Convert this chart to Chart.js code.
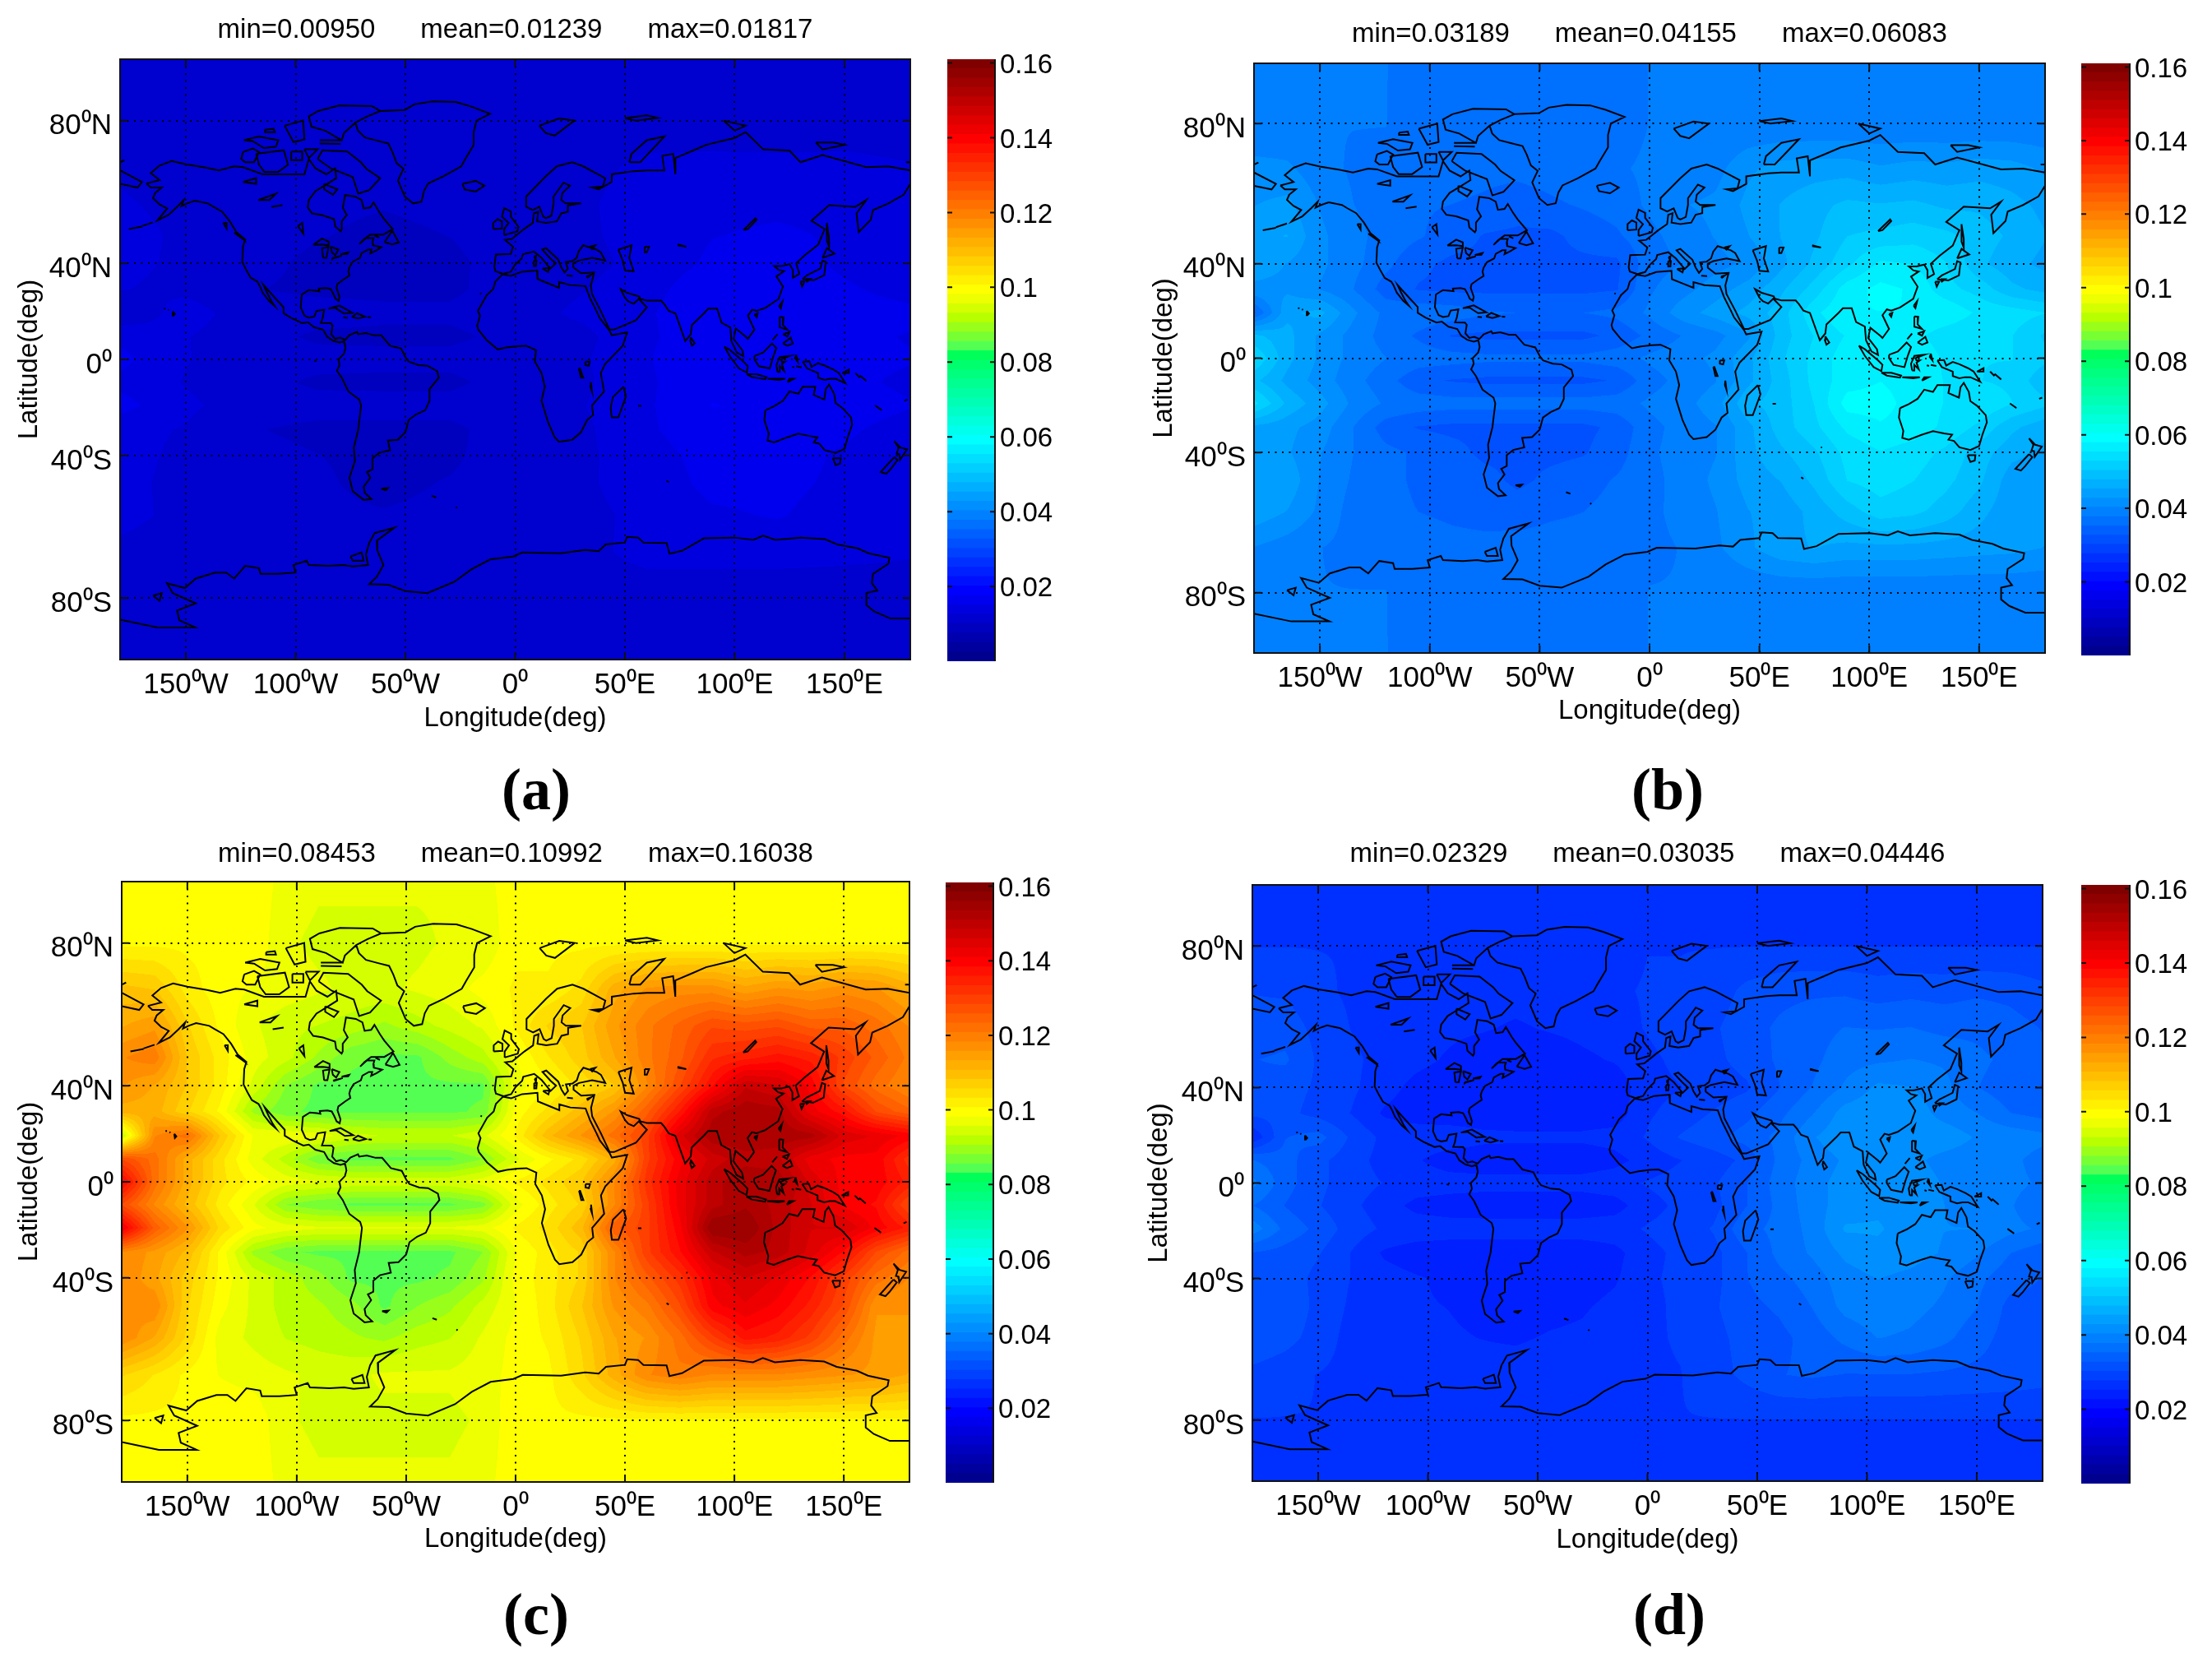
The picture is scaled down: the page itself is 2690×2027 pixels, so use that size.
<!DOCTYPE html>
<html><head><meta charset="utf-8">
<script src="https://cdn.jsdelivr.net/npm/chart.js@4"></script>
<style>
html,body{margin:0;padding:0;background:#fff}
#page{position:relative;width:2690px;height:2027px;overflow:hidden;background:#fff}
canvas{position:absolute}
.tag{position:absolute;transform:translate(-50%,-50%);font:bold 72px "Liberation Serif",serif;color:#000;white-space:nowrap}
</style></head><body><div id="page"></div>
<script>
const lonTicks=[-150,-100,-50,0,50,100,150];
const lonLabels=['150⁰W','100⁰W','50⁰W','0⁰','50⁰E','100⁰E','150⁰E'];
const latTicks=[80,40,0,-40,-80];
const latLabels=['80⁰N','40⁰N','0⁰','40⁰S','80⁰S'];
const colorbarTicks=[0.02,0.04,0.06,0.08,0.1,0.12,0.14,0.16];
const colorbarLabels=['0.02','0.04','0.06','0.08','0.1','0.12','0.14','0.16'];
const colorMax=0.161;
const tags=['(a)','(b)','(c)','(d)'];
const titleA=['min=0.00950','mean=0.01239','max=0.01817'];
const titleB=['min=0.03189','mean=0.04155','max=0.06083'];
const titleC=['min=0.08453','mean=0.10992','max=0.16038'];
const titleD=['min=0.02329','mean=0.03035','max=0.04446'];
const gridLats=[90,80,70,60,50,40,30,20,10,0,-10,-20,-30,-40,-50,-60,-70,-80,-90];
const gridLons=[-180,-165,-150,-135,-120,-105,-90,-75,-60,-45,-30,-15,0,15,30,45,60,75,90,105,120,135,150,165,180];
const gridLonsCoarse=[-180,-150,-120,-90,-60,-30,0,30,60,90,120,150,180];
// panel a, units of 0.0001
const valuesA=[
[113,113,113,108,108,108,113,113,113,113,113,113,113],
[113,113,113,107,107,108,113,113,113,113,113,113,113],
[123,115,111,108,107,110,114,118,131,132,131,132,127],
[128,120,108,105,102,106,114,122,136,145,145,141,133],
[133,122,110,102,96,101,111,121,136,150,155,147,136],
[131,122,107,96,96,96,110,118,133,156,165,145,133],
[127,120,102,96,96,96,112,124,141,170,172,155,140],
[104,138,111,110,105,105,114,131,147,175,175,164,158],
[145,127,110,97,96,96,107,118,147,166,168,158,149],
[158,127,113,108,107,107,114,122,149,172,175,158,153],
[145,124,108,97,96,96,110,120,147,170,173,158,145],
[160,131,112,108,108,108,114,124,147,177,170,165,153],
[133,124,102,96,96,96,111,120,147,167,170,156,138],
[133,121,107,101,96,97,112,120,141,160,162,147,133],
[131,120,107,103,96,102,111,122,136,158,158,145,131],
[133,119,107,104,102,105,112,120,131,147,153,138,130],
[120,113,110,107,108,108,112,119,133,133,133,131,128],
[113,113,113,107,107,107,113,113,113,113,113,113,113],
[113,113,113,108,108,108,113,113,113,113,113,113,113]];
// panel b, units of 0.0001
const valuesB=[
[378,378,378,378,378,367,363,363,363,363,363,367,378,378,378,378,378,378,378,378,378,378,378,378,378],
[378,378,378,378,378,363,359,359,359,359,363,363,378,378,378,378,378,378,378,378,378,378,378,378,378],
[412,408,386,374,370,367,363,359,359,363,367,374,382,382,393,423,438,442,442,431,438,435,442,438,423],
[427,435,401,378,363,355,352,348,340,348,355,363,382,401,408,435,454,469,484,480,484,473,473,461,446],
[446,454,408,386,367,355,340,325,321,321,336,348,370,389,404,427,454,473,503,510,518,510,491,473,454],
[438,427,408,386,359,333,321,321,321,321,321,321,367,378,393,408,446,484,522,559,552,529,484,461,446],
[423,423,401,378,340,325,321,321,321,321,321,325,374,393,416,438,473,514,567,586,575,537,518,484,469],
[348,446,461,408,370,370,367,355,352,352,352,359,382,416,438,461,491,548,578,578,578,575,548,541,529],
[484,461,423,393,367,348,325,321,321,321,321,333,359,378,393,423,491,529,556,567,563,537,529,529,499],
[529,461,423,393,378,367,363,359,359,359,359,367,382,393,408,446,499,537,567,578,578,548,529,529,510],
[484,446,416,386,363,333,325,321,321,321,321,329,367,386,401,446,491,537,567,578,567,552,529,522,484],
[537,473,438,397,374,367,363,363,363,363,363,367,382,393,416,473,491,529,590,590,567,552,552,529,510],
[446,435,416,378,340,325,321,321,321,321,321,333,370,386,401,446,491,522,559,575,567,548,522,484,461],
[446,431,404,378,359,348,336,321,321,321,325,340,374,386,401,446,473,499,537,552,541,522,491,461,446],
[438,446,401,374,359,348,344,336,321,333,340,355,370,386,408,438,454,484,529,541,529,510,484,438,438],
[446,427,397,367,359,352,348,344,340,348,352,363,374,382,401,427,438,461,491,518,510,491,461,435,435],
[401,389,378,370,367,363,359,359,363,363,363,367,374,378,397,423,446,454,446,446,446,442,438,435,427],
[378,378,378,378,378,363,359,359,359,359,359,363,378,378,378,378,378,378,378,378,378,378,378,378,378],
[378,378,378,378,378,367,363,363,363,363,363,367,378,378,378,378,378,378,378,378,378,378,378,378,378]];
// panel c, units of 0.001
const valuesC=[
[100,100,100,100,100,97,96,96,96,96,96,97,100,100,100,100,100,100,100,100,100,100,100,100,100],
[100,100,100,100,100,96,95,95,95,95,96,96,100,100,100,100,100,100,100,100,100,100,100,100,100],
[109,108,102,99,98,97,96,95,95,96,97,99,101,101,104,112,116,117,117,114,116,115,117,116,112],
[113,115,106,100,96,94,93,92,90,92,94,96,101,106,108,115,120,124,128,127,128,125,125,122,118],
[118,120,108,102,97,94,90,86,85,85,89,92,98,103,107,113,120,125,133,135,137,135,130,125,120],
[116,113,108,102,95,88,85,85,85,85,85,85,97,100,104,108,118,128,138,148,146,140,128,122,118],
[112,112,106,100,90,86,85,85,85,85,85,86,99,104,110,116,125,136,150,153,152,142,137,128,124],
[92,118,122,108,98,98,97,94,93,93,93,95,101,110,116,122,130,145,153,153,153,152,145,143,140],
[128,122,112,104,97,92,86,85,85,85,85,88,95,100,104,112,130,140,147,150,149,142,140,140,132],
[140,122,112,104,100,97,96,95,95,95,95,97,101,104,108,118,132,142,150,153,153,145,140,140,135],
[128,118,110,102,96,88,86,85,85,85,85,87,97,102,106,118,130,142,150,153,150,146,140,138,128],
[142,125,116,105,99,97,96,96,96,96,96,97,101,104,110,125,130,140,156,156,150,146,146,140,135],
[118,115,110,100,90,86,85,85,85,85,85,88,98,102,106,118,130,138,148,152,150,145,138,128,122],
[118,114,107,100,95,92,89,85,85,85,86,90,99,102,106,118,125,132,142,146,143,138,130,122,118],
[116,118,106,99,95,92,91,89,85,88,90,94,98,102,108,116,120,128,140,143,140,135,128,116,116],
[118,113,105,97,95,93,92,91,90,92,93,96,99,101,106,113,116,122,130,137,135,130,122,115,115],
[106,103,100,98,97,96,95,95,96,96,96,97,99,100,105,112,118,120,118,118,118,117,116,115,113],
[100,100,100,100,100,96,95,95,95,95,95,96,100,100,100,100,100,100,100,100,100,100,100,100,100],
[100,100,100,100,100,97,96,96,96,96,96,97,100,100,100,100,100,100,100,100,100,100,100,100,100]];
// panel d, units of 0.0001
const valuesD=[
[276,276,276,276,276,268,265,265,265,265,265,268,276,276,276,276,276,276,276,276,276,276,276,276,276],
[276,276,276,276,276,265,262,262,262,262,265,265,276,276,276,276,276,276,276,276,276,276,276,276,276],
[301,298,282,273,270,268,265,262,262,265,268,273,279,279,287,309,320,323,323,315,320,317,323,320,309],
[312,317,293,276,265,259,257,254,248,254,259,265,279,293,298,317,331,342,353,351,353,345,345,337,326],
[326,331,298,282,268,259,248,237,235,235,246,254,270,284,295,312,331,345,367,373,378,373,359,345,331],
[320,312,298,282,262,243,235,235,235,235,235,235,268,276,287,298,326,353,381,408,403,386,353,337,326],
[309,309,293,276,248,237,235,235,235,235,235,237,273,287,304,320,345,375,414,422,420,392,378,353,342],
[254,326,337,298,270,270,268,259,257,257,257,262,279,304,320,337,359,400,422,422,422,420,400,395,386],
[353,337,309,287,268,254,237,235,235,235,235,243,262,276,287,309,359,386,406,414,411,392,386,386,364],
[386,337,309,287,276,268,265,262,262,262,262,268,279,287,298,326,364,392,414,422,422,400,386,386,373],
[353,326,304,282,265,243,237,235,235,235,235,240,268,282,293,326,359,392,414,422,414,403,386,381,353],
[392,345,320,290,273,268,265,265,265,265,265,268,279,287,304,345,359,386,431,431,414,403,403,386,373],
[326,317,304,276,248,237,235,235,235,235,235,243,270,282,293,326,359,381,408,420,414,400,381,353,337],
[326,315,295,276,262,254,246,235,235,235,237,248,273,282,293,326,345,364,392,403,395,381,359,337,326],
[320,326,293,273,262,254,251,246,235,243,248,259,270,282,298,320,331,353,386,395,386,373,353,320,320],
[326,312,290,268,262,257,254,251,248,254,257,265,273,279,293,312,320,337,359,378,373,359,337,317,317],
[293,284,276,270,268,265,262,262,265,265,265,268,273,276,290,309,326,331,326,326,326,323,320,317,312],
[276,276,276,276,276,265,262,262,262,262,262,265,276,276,276,276,276,276,276,276,276,276,276,276,276],
[276,276,276,276,276,268,265,265,265,265,265,268,276,276,276,276,276,276,276,276,276,276,276,276,276]];
// coastlines: flat lon,lat pairs, one list per outline
const coastlines=[
[-168,65.6,-162,66.5,-166,68.3,-162,70.2,-156.5,71.3,-150,70.5,-141,69.7,-135,69,-128,70,-124,69.8,-115,68,-108,68,-102,68,-96,68,-94,71.8,-91,69.5,-86,68,-82,69.5,-81.5,67,-87,65,-91,63.5,-94,61,-94.5,58.8,-92.5,57,-88,56.5,-82.5,55.2,-82,52.9,-79.5,51.3,-79,52,-79,54.5,-76.7,56.5,-78.5,58.7,-77.5,62.4,-73,62,-70,61,-69,58.5,-66,58.8,-64.5,60.3,-62,57.5,-60,55.5,-57,53,-55.8,52,-60,50.2,-66,50.2,-69,48.5,-71,46.9,-68,49,-64.5,49,-65,47.8,-64.8,46.5,-61,45.8,-63.5,44.6,-66,43.6,-65.5,45,-67,45,-70,43.7,-70.7,42,-74,40.6,-75.5,38.5,-76,37,-75.5,35.3,-78,33.9,-81,32,-81.4,30.5,-80,26.8,-80.4,25.2,-81.8,26,-82.8,28,-84,30,-86,30.4,-89.5,30.2,-89.2,29.1,-91,29.3,-94,29.6,-97.2,27.8,-97.7,22.5,-96,19,-94,18.2,-91.5,18.6,-90.5,21,-87,21.5,-87.7,18,-88.5,15.9,-84,15.8,-83.2,14.8,-83.8,11,-82,9,-79.8,9.5,-77.4,8.6,-75.5,10.6,-72,12,-71.5,11,-68,11.5,-64,10.5,-61,10.5,-57,6,-52,4.8,-50,1,-48.5,-1,-44,-2.5,-40,-2.8,-35.5,-5.2,-34.8,-8,-39,-13,-39,-18,-41,-22,-45,-23.7,-48.5,-26,-50,-31,-53.5,-34,-58,-34.3,-57,-38,-62,-39,-65,-41,-65,-45,-67.5,-46,-66,-48,-69,-51,-68.5,-53,-65.5,-55,-69,-55.3,-74,-52.5,-75.5,-48,-73,-42,-73.5,-37,-71.5,-30,-70.2,-20,-71,-17.5,-76,-14,-79,-8,-81.2,-5,-80,-2.5,-80.5,0,-78,2.5,-77.3,5,-77.8,7.5,-78,8,-80,7.4,-83,8.2,-85.7,10,-87.5,13,-91.5,14,-94.5,16.2,-97,15.8,-102,18,-105.5,20,-105.5,22.5,-109,26,-112.5,29.5,-114.7,31.7,-113,28.5,-111,25,-109.5,23,-112,25,-115,28.5,-116.5,31.5,-117.5,33,-120.5,34.5,-122.5,37.5,-124.3,40.4,-124,46,-123,48.5,-127,51,-130,54.5,-133.5,57.5,-137.5,59,-140,60,-146,60.8,-149.5,60,-152,59.2,-151,61,-154,59,-158,56.5,-163,54.8,-158.5,58.5,-162,59.7,-165,61.5,-164,63,-161,64.5,-166,64.5,-168,65.6],
[-90,71.8,-87.8,73.8,-76.5,73.5,-70.3,71,-67.8,69.4,-61.5,67,-66.5,63.8,-71.5,62.8,-74,67.3,-84,69.5,-90,71.8],
[-61.5,81.8,-65.3,82.7,-80.3,82.8,-89.7,81.8,-94,80.8,-92.8,78.8,-86.6,78,-79,76,-78,77.5,-72.8,79.6,-67.8,80.7,-61.5,81.8],
[-105,79,-96.6,80,-96,76.2,-101,75.6,-105,79],
[-89,76,-79,76],
[-89,75.3,-79.5,75.2],
[-123.6,76,-116.7,76.8,-107.9,76,-109,74.6,-114.5,74.3,-119.5,75.8,-123.6,76],
[-114,78.2,-110,78.4,-109.5,77.7,-114,77.7,-114,78.2],
[-124,73.4,-119.5,74.2,-116.7,73.4,-119,71,-123,71,-124.8,71.8,-124,73.4],
[-118,73,-105.4,73.8,-103.5,70.4,-108,68.6,-114.2,68.6,-116.7,70.4,-118,73],
[-96,74,-90,74,-94,72,-96,74],
[-102,73.5,-97,73.5,-97,71.5,-102,71.5,-102,73.5],
[-87,65.5,-81,64,-83,62.5,-87,64,-87,65.5],
[-59.5,47.6,-56,51.5,-53,47.5,-56,46.8,-59.5,47.6],
[-128,50.8,-124,49,-123.5,48.4,-128,50.8],
[-133,54,-131.5,54,-131.5,52.2,-133,54],
[-64,49.9,-62,49.2,-64,49.9],
[-61.5,81.8,-50.3,82,-45.9,83,-37.7,83.5,-27,83.4,-20,82.6,-11.4,81.3,-17.6,80,-18.9,77.7,-18.9,75,-22.7,71.8,-24.6,70,-32.7,67.5,-39.6,65.6,-41.5,63.6,-42.7,60.5,-46.5,60,-50.3,62,-53.4,66.4,-50.9,69.4,-54,70.8,-55.9,73.4,-57.8,75.3,-62.8,75.9,-68.4,76.6,-71.6,78,-72.8,79.6,-67.8,80.7,-61.5,81.8],
[-24,65.5,-18,66.3,-14,65,-18,63.4,-23,64,-24,65.5],
[-92,46.7,-88,48.8,-85,47.8,-85,46.5,-88,46.8,-92,46.7],
[-87.5,42,-88,45.5,-85,45.9,-86,42,-87.5,42],
[-84,46,-80.5,45,-82,43,-83.5,44,-84,46],
[-83.3,41.7,-79,42.8,-83,42,-83.3,41.7],
[-79.5,43.3,-76,44,-76.5,43.4,-79.5,43.3],
[-124,66,-118,67,-118,65.5,-124,66],
[-117,61,-109,62.8,-112,61,-117,61],
[-99,53,-97,54,-96.5,50.5,-99,53],
[-111,59,-106,59.5,-111,59],
[-85,22,-80,23.2,-74.2,20.2,-78,19.9,-82,22.3,-85,22],
[-74.4,18.5,-72,20,-68.4,18.6,-71.5,17.8,-74.4,18.5],
[-78.3,18.3,-76.3,18.1,-78.3,18.3],
[-67.2,18.4,-65.7,18.3,-67.2,18.4],
[-156,20.8,-155,19.7,-155.7,19,-156,20.8],
[-158.2,21.5,-157.7,21.3,-158.2,21.5],
[-160,22,-159.3,22,-160,22],
[-176,52,-170,52.8,-176,52],
[-170,53,-165,54.2,-170,53],
[-91.5,-0.5,-90.5,-0.8,-91.5,-0.5],
[-61,-51.7,-58,-51.5,-59,-52.2,-61,-51.7],
[-38,-54,-36,-54.5,-38,-54],
[-27,-57.5,-26.5,-57.8],
[-16,28.3,-15.4,28],
[-180,71,-178,71.5,-180,71],
[178,71,180,71],
[-5.8,35.8,-2,35.2,3,36.8,10,37.3,10.2,34,15,32.3,20,30.5,20,32.8,25,31.6,32,31.2,32.5,30,34,26.5,37,21,38.5,18,43,12.5,44,10.6,51,11.8,49,6,41,-2,39,-6,40.5,-14,35,-20,35.5,-24,32.8,-26,30,-31,26,-34,20,-34.8,18,-33,15,-27,12,-18,13.5,-12,12,-6,9,-1,9.5,4,5,6,1,5.8,-4,5.2,-8,4.4,-13,8.5,-16.8,13,-17.3,14.7,-16,19,-17,21,-13,27.5,-10,30,-9,33,-5.8,35.8],
[-5.5,36,-9,37,-9.5,38.7,-8.8,43.2,-2,43.4,-1,46,-4.7,48.4,-1.5,48.7,1.5,50.5,4,52,8,54,8.5,57,10.5,57.5,10,54.5,14,54,19,54.5,21,57,24,57.5,24,59.4,30,60,23,60,21,61,21.5,63,25,65,22,65.8,17.5,62,17.5,60,16.5,56.3,14,55.5,12.8,56,11,59,8,58,5,59,5,62,14,67.5,19,70,26,71,31,70,41,67,40,64.8,35,64.5,38,64,44,66,44,68,54,68.8,60,69,68,69,67,72.5,72,73,73,68,73,72,80,73.5,87,75,100,76.5,105,77.7,113,74,125,73.7,130,71,140,72.7,160,69.8,170,70,180,69],
[-180,69,-170,66,-172,64.5,-180,65.5],
[180,65.5,177,62.5,170,60,163,58,162,55,156.5,51,155.5,57,160,61,155,59,143,59.5,135,54.7,141,52,138,46.7,132,43,128,40,129.5,36,126.5,34.5,126.5,37.5,125,39.7,121.5,39,118,39,120,37.5,122.5,37,119,35,122,31,120,26,114,22.3,110,21,108,21.5,106,19,109,13,106,9,105,10,100.5,13.5,99.5,9,103.5,4,104,1.4,101,3,98.5,8,98,14,94,16,92,22,88,22,86,20,80.5,15,80,11,77.5,8,73,20,70,21,68,23.7,66.5,25.3,60,25.3,57,26,56.5,27,51,28.5,48,30,50,26.5,51.5,25,54,24,56.3,26,60,22.5,55,17,45,13,43,13,39,21,35,28,34.5,31.5,36,36.5,30,36.2,26.5,38.5,26.5,40,29,41,35,42,41,41,39,44,37,45,33,46,31,46.5,29,44.5,28,42,26,40.8,23,40.5,24,38,22.5,36.5,21,38.5,19.5,41.5,14,45.5,12.3,45,16,41.8,18.5,40,16,38,12,42,8.5,44.3,3.5,43.3,3,41.8,0,39.5,-2,36.8,-5.5,36],
[47,45,53,46.5,52,42,54,37,50,37.3,49,41,47,45],
[59,46,61,46,60,44,59,44,59,46],
[74,46.5,78,46,74,46.8],
[104,51.7,109.5,55.5,110,55,106,52,104,51.7],
[34,46,36.5,46.5,35,45.2,34,46],
[-5,50,1,51.3,1.5,52.8,-2,56,-2,57.6,-5,58.6,-6,56,-3,54,-5,52,-5,50],
[-10,52,-6,52.2,-6,54.5,-8,55.2,-10,54,-10,52],
[8.5,41,9.7,41,9.5,39,8.5,39,8.5,41],
[12.5,38,15.5,38.2,15,36.7,12.5,38],
[8.7,42.5,9.5,42.8,9.3,41.4,8.7,42.5],
[23.5,35.4,26.2,35.2,23.5,35.4],
[32.5,35,34.5,35.6,33,34.6,32.5,35],
[11,79,20,80.4,27,80,18,77,14,77.5,11,79],
[52,71,57,71,68,76.8,60,76,53,73,52,71],
[50,80.5,60,81,65,80.5,55,80,50,80.5],
[95,80,105,79,100,78,95,80],
[137,75.5,145,75.5,150,75,140,74,137,75.5],
[142,54,143,49,143,46,142,48,142,54],
[130.9,34,136,33.5,140.8,35.5,141.5,40.5,140,41,139,38,133,35.5,130.9,34],
[140,42,145.5,43.5,142,45.5,140,42],
[130,33,131.8,33,130.7,31,130,33],
[132.5,34,134.5,34,133,33,132.5,34],
[120.2,23,121.8,25,121,22,120.2,23],
[109,19.5,110.5,20,110,18.3,109,19.5],
[80,9.7,81.8,7,80.5,6,79.8,8,80,9.7],
[120.5,18.5,122.3,18.3,122,15,124,13,120.5,14,120.5,18.5],
[122,7,125.5,9.5,126.5,7,124,6,122,7],
[122,11,125,12,124,10,122,11],
[117.3,8.5,119.5,11,117.3,8.5],
[95.3,5.6,98,4,104,-1,106,-3,105.5,-5.8,102,-4,98,1,95.3,5.6],
[105.5,-6.5,110,-6.5,114.5,-7.8,114,-8.7,108,-7.8,105.5,-6.5],
[109,1.5,113,3,117,7,119,5,117.5,1,116,-4,111,-3,109,0,109,1.5],
[119.5,-5.5,119,-2.5,120.5,1,125,1.5,121,0,121.5,-1,123,-1,121.5,-2,122.5,-5,120.5,-3,120.5,-5.5,119.5,-5.5],
[131,-1,134,-0.8,135,-3.3,138,-1.7,141,-2.7,145,-4.5,147.5,-6,150.5,-10.5,146,-8.5,143.5,-8.5,141,-9,138,-8,138,-6,133,-4,131,-1],
[124,-10,127,-8.5,125,-8.5,124,-10],
[115,-8.5,119,-8.5,123,-8.5,120,-9,115,-8.5],
[128,2,128.7,-1,127.5,0.5,128,2],
[128,-3,130.5,-3.5,128,-3],
[126.2,-3.2,127.2,-3.5,126.2,-3.2],
[149,-6,152,-4.5,152,-6,149,-6],
[155,-6,157,-8,155,-6],
[157,-7,160,-9.5,157,-7],
[164,-20,167,-22,164,-20],
[177.3,-18,178.7,-17.5,177.3,-18],
[114,-22,113.5,-26,115.5,-31.5,115,-34.3,118,-35,124,-33,129,-31.6,134,-32.5,137.7,-33,136,-35,138.5,-35.5,141,-38,146,-39,150,-37.5,151.5,-33,153.5,-28,153,-25,149,-21,146,-19,145.3,-15,143,-11,141.5,-13,140.8,-17.5,136,-15.5,136.7,-12,131,-12,129,-15,125,-14,122,-18,118,-20.3,114,-22],
[144.7,-41,148.3,-41,148,-43,146,-43.5,144.7,-41],
[172.7,-34.5,175.5,-37,178.5,-37.7,175.3,-41.6,175,-39.5,173.8,-39.3,174.7,-37,172.7,-34.5],
[172.7,-40.6,174.2,-41.7,171,-45,169,-46.6,166.5,-46,170,-43,172.7,-40.6],
[49.3,-12,50.5,-16,47,-25,44,-25,43.5,-21,44.5,-16.5,49.3,-12],
[32,-1,34,-1,33.5,-2.8,32,-2.5,32,-1],
[29,-4,30,-8,31,-8,29.5,-4,29,-4],
[34.5,-10,35,-14,34.3,-12,34.5,-10],
[56,-20.2,57.5,-20.2],
[69,-49,70,-49.5],
[78,-38,78.5,-38],
[-180,-83.9,-163,-85.2,-145.7,-85.2,-153,-84,-154,-82.3,-145.5,-81,-156,-79,-158.6,-77,-150.5,-78,-145.5,-76,-136.7,-74.7,-131.7,-74.7,-128,-76,-123,-73.2,-116.7,-73.7,-116,-75,-108,-75,-100,-74.7,-101,-73,-95,-72,-94,-73,-85,-73.2,-78.4,-73,-74,-73.3,-67,-73,-68,-70.5,-66.5,-67.6,-64,-65,-55,-63.5,-63,-67,-62.8,-69.5,-60,-73,-63,-75.6,-66.5,-77.2,-57.8,-77.3,-50,-78.6,-40,-79,-27.7,-76.7,-20,-74,-11.4,-71.7,-1,-71,3.3,-70,20.8,-70.2,31.8,-69.4,38,-69.7,41.3,-68,50,-67.5,51,-66,56,-66.2,58.4,-67.5,69,-67.6,70.3,-70.3,76,-69.6,86,-66.4,100,-66.2,108.5,-66.8,113,-65.7,118.5,-66.8,130,-66.2,141,-66.6,146.7,-68,156,-69,161,-70.2,170.5,-71.3,170,-72.7,163,-75,162.5,-77,165,-78.5,160,-79,160,-81.3,163.7,-82.5,171,-83.7,180,-83.7],
[-75,-71,-70,-70,-69,-72,-74,-72,-75,-71],
[-165,-79.5,-161,-79,-162,-80.5,-165,-79.5]
];

const panels=[
 {tag:tags[0],title:titleA,lons:gridLonsCoarse,vals:valuesA,unit:1e-4,l:146,t:72,r:1107,b:802,titleY:37,xTitleY:874,yTitleX:36,cb:[1152,1210,72,804],tx:652,ty:960},
 {tag:tags[1],title:titleB,lons:gridLons,vals:valuesB,unit:1e-4,l:1525,t:77,r:2487,b:794,titleY:42,xTitleY:865,yTitleX:1416,cb:[2531,2590,77,797],tx:2028,ty:960},
 {tag:tags[2],title:titleC,lons:gridLons,vals:valuesC,unit:1e-3,l:148,t:1072,r:1106,b:1802,titleY:1039,xTitleY:1872,yTitleX:36,cb:[1150,1208,1073,1803],tx:652,ty:1963},
 {tag:tags[3],title:titleD,lons:gridLons,vals:valuesD,unit:1e-4,l:1523,t:1076,r:2484,b:1801,titleY:1039,xTitleY:1873,yTitleX:1410,cb:[2531,2590,1076,1804],tx:2030,ty:1963}
];

const FONT='"Liberation Sans",Arial,sans-serif', FS=33, TFS=35, LH=40;
const rad=Math.PI/180;
const miller=lat=>1.25*Math.log(Math.tan(Math.PI/4+0.4*lat*rad));
class MillerScale extends Chart.LinearScale{
  getPixelForValue(v){return v===null?NaN:this.getPixelForDecimal(0.5+miller(v)/(2*miller(90)));}
  getValueForPixel(p){const m=(this.getDecimalForPixel(p)-0.5)*2*miller(90);return (Math.atan(Math.exp(0.8*m))-Math.PI/4)*2.5/rad;}
}
MillerScale.id='miller';MillerScale.defaults={};
Chart.register(MillerScale);

// 64 level jet, with the green part as the reference's colour bar shows it
function buildJet(m){
  const n=Math.ceil(m/4),u=[];
  for(let i=1;i<=n;i++)u.push(i/n);
  for(let i=1;i<n;i++)u.push(1);
  for(let i=n;i>=1;i--)u.push(i/n);
  const g0=Math.ceil(n/2)-(m%4===1?1:0);
  const map=[];for(let i=0;i<m;i++)map.push([0,0,0]);
  u.forEach((val,i)=>{
    const g=g0+i+1,r=g+n,b=g-n;
    if(r<=m)map[r-1][0]=val;
    if(g<=m)map[g-1][1]=val;
    if(b>=1)map[b-1][2]=val;
  });
  for(let row=25;row<=33;row++)map[row-1]=[0,1,1-(row-24)*0.65/9];
  [[.33,1,.33],[.47,1,.2],[.6,1,.1],[.72,1,0],[.83,1,0],[.93,1,0]].forEach((c,i)=>{map[33+i]=c;});
  return map.map(c=>c.map(x=>Math.round(x*255)));
}
const jet=buildJet(64);
const levelOf=v=>Math.max(0,Math.min(63,Math.floor(v/colorMax*64)));

const heatShade={id:'heatShade',beforeDatasetsDraw(chart){
  const ds=chart.data.datasets[0],els=chart.getDatasetMeta(0).data,nc=ds.nCols,nr=ds.nRows;
  const a=chart.chartArea,L=Math.round(a.left),T=Math.round(a.top),W=Math.round(a.right)-L,H=Math.round(a.bottom)-T;
  const xs=[],ys=[];
  for(let c=0;c<nc;c++)xs.push(els[c].x);
  for(let r=0;r<nr;r++)ys.push(els[r*nc].y);
  const off=document.createElement('canvas');off.width=W;off.height=H;
  const oc=off.getContext('2d'),im=oc.createImageData(W,H),px=im.data;
  let r=0;
  for(let j=0;j<H;j++){
    const y=T+j+0.5;
    while(r<nr-2&&y>ys[r+1])r++;
    const fy=Math.max(0,Math.min(1,(y-ys[r])/(ys[r+1]-ys[r])));
    let c=0;
    for(let i=0;i<W;i++){
      const x=L+i+0.5;
      while(c<nc-2&&x>xs[c+1])c++;
      const fx=Math.max(0,Math.min(1,(x-xs[c])/(xs[c+1]-xs[c])));
      const v=(ds.data[r*nc+c].v*(1-fx)+ds.data[r*nc+c+1].v*fx)*(1-fy)+(ds.data[(r+1)*nc+c].v*(1-fx)+ds.data[(r+1)*nc+c+1].v*fx)*fy;
      const col=jet[levelOf(v)],k=(j*W+i)*4;
      px[k]=col[0];px[k+1]=col[1];px[k+2]=col[2];px[k+3]=255;
    }
  }
  oc.putImageData(im,0,0);
  chart.ctx.drawImage(off,L,T);
}};
const frame={id:'frame',afterDraw(chart){
  const {left:l,right:r,top:t,bottom:b}=chart.chartArea,c=chart.ctx,x=chart.scales.x,y=chart.scales.y,len=9;
  c.save();c.strokeStyle='#111';c.lineWidth=2;c.setLineDash([]);
  c.beginPath();
  x.ticks.forEach((_,i)=>{const p=x.getPixelForTick(i);c.moveTo(p,b);c.lineTo(p,b-len);c.moveTo(p,t);c.lineTo(p,t+len);});
  y.ticks.forEach((_,i)=>{const p=y.getPixelForTick(i);c.moveTo(l,p);c.lineTo(l+len,p);c.moveTo(r,p);c.lineTo(r-len,p);});
  c.stroke();
  c.strokeRect(l,t,r-l,b-t);
  c.restore();
}};
const barFrame={id:'barFrame',afterDraw(chart){
  const {left:l,right:r,top:t,bottom:b}=chart.chartArea,c=chart.ctx,y=chart.scales.y;
  c.save();c.strokeStyle='#111';c.lineWidth=2;c.beginPath();
  y.ticks.forEach((_,i)=>{const p=y.getPixelForTick(i);c.moveTo(l,p);c.lineTo(l+6,p);c.moveTo(r,p);c.lineTo(r-6,p);});
  c.moveTo(r,t);c.lineTo(r,b);c.stroke();c.restore();
}};

const page=document.getElementById('page');
function addCanvas(x,y,w,h){const cv=document.createElement('canvas');cv.width=w;cv.height=h;cv.style.left=x+'px';cv.style.top=y+'px';cv.style.width=w+'px';cv.style.height=h+'px';page.appendChild(cv);return cv;}

panels.forEach(p=>{
  const cx=p.yTitleX-LH/2,cy=p.titleY-LH/2,cw=p.r+2-cx,ch=p.xTitleY+LH/2-cy;
  const cells=[];
  gridLats.forEach((lat,r)=>p.lons.forEach((lon,c)=>cells.push({x:lon,y:lat,v:p.vals[r][c]*p.unit})));
  const coast=[];
  coastlines.forEach(line=>{for(let i=0;i<line.length;i+=2)coast.push({x:line[i],y:line[i+1]});coast.push({x:null,y:null});});
  new Chart(addCanvas(cx,cy,cw,ch),{
    type:'scatter',
    data:{datasets:[
      {label:'delay',data:cells,nCols:p.lons.length,nRows:gridLats.length,pointRadius:0,showLine:false},
      {label:'coast',data:coast,showLine:true,pointRadius:0,borderColor:'#000',borderWidth:2,tension:0,spanGaps:false,fill:false}
    ]},
    options:{responsive:false,animation:false,devicePixelRatio:1,events:[],
      layout:{padding:{top:0,left:0,bottom:0,right:2}},
      plugins:{legend:{display:false},tooltip:{enabled:false},
        title:{display:true,fullSize:false,text:p.title.join('\u00A0\u00A0\u00A0\u00A0\u00A0\u00A0'),color:'#000',
          font:{family:FONT,size:FS,weight:'normal',lineHeight:LH/FS},padding:{top:0,bottom:p.t-cy-LH}}},
      scales:{
        x:{type:'linear',min:-180,max:180,
          afterBuildTicks:s=>{s.ticks=lonTicks.map(value=>({value}));},
          afterFit:s=>{s.height=ch-(p.b-cy);},
          ticks:{autoSkip:false,maxRotation:0,minRotation:0,padding:11,color:'#000',font:{family:FONT,size:TFS,lineHeight:LH/TFS},callback:v=>lonLabels[lonTicks.indexOf(v)]},
          grid:{z:1,color:'#000',lineWidth:2,drawTicks:false},border:{display:false,dash:[2,6.5]},
          title:{display:true,text:'Longitude(deg)',color:'#000',padding:0,font:{family:FONT,size:FS,lineHeight:LH/FS}}},
        y:{type:'miller',min:-90,max:90,
          afterBuildTicks:s=>{s.ticks=latTicks.map(value=>({value}));},
          afterFit:s=>{s.width=p.l-cx;},
          ticks:{autoSkip:false,maxRotation:0,minRotation:0,padding:10,labelOffset:7,color:'#000',font:{family:FONT,size:TFS,lineHeight:LH/TFS},callback:v=>latLabels[latTicks.indexOf(v)]},
          grid:{z:1,color:'#000',lineWidth:2,drawTicks:false},border:{display:false,dash:[2,6.5]},
          title:{display:true,text:'Latitude(deg)',color:'#000',padding:0,font:{family:FONT,size:FS,lineHeight:LH/FS}}}
      }
    },
    plugins:[heatShade,frame]
  });
  // colour bar
  const [bl,br,bt,bb]=p.cb,padV=30,axisW=84;
  const sets=jet.map((col,i)=>({label:'level'+i,data:[[i/64*colorMax,(i+1)/64*colorMax]],backgroundColor:`rgb(${col})`,borderWidth:0,inflateAmount:0.5,grouped:false,barPercentage:1,categoryPercentage:1}));
  new Chart(addCanvas(bl,bt-padV,br-bl+axisW,bb-bt+2*padV),{
    type:'bar',
    data:{labels:['colorbar'],datasets:sets},
    options:{responsive:false,animation:false,devicePixelRatio:1,events:[],
      layout:{padding:{top:padV,bottom:padV,left:0,right:0}},
      plugins:{legend:{display:false},tooltip:{enabled:false}},
      scales:{
        x:{display:false},
        y:{position:'right',min:0,max:colorMax,
          afterBuildTicks:s=>{s.ticks=colorbarTicks.map(value=>({value}));},
          afterFit:s=>{s.width=axisW;},
          grid:{display:false,drawTicks:false},border:{display:false},
          ticks:{autoSkip:false,padding:6,labelOffset:3,color:'#000',font:{family:FONT,size:FS,lineHeight:LH/FS},callback:v=>colorbarLabels[colorbarTicks.indexOf(v)]}}
      }
    },
    plugins:[barFrame]
  });
  const d=document.createElement('div');d.className='tag';d.textContent=p.tag;d.style.left=p.tx+'px';d.style.top=p.ty+'px';page.appendChild(d);
});
</script></body></html>
